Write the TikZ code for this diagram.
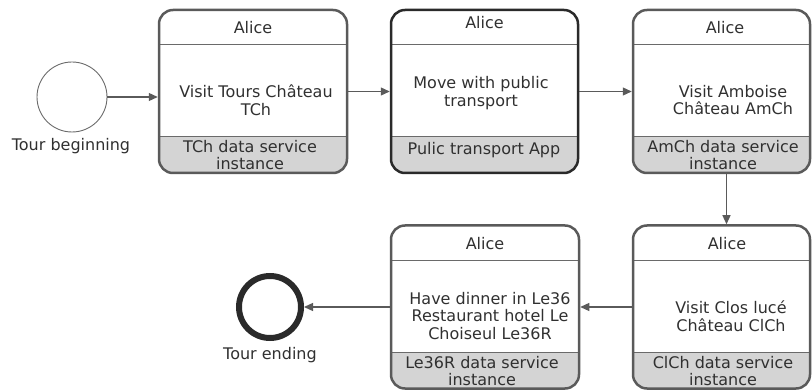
\documentclass[tikz,border=0pt]{standalone}
\usepackage{fontspec}
\setmainfont{DejaVu Sans}
\usetikzlibrary{arrows.meta}

\definecolor{boxline}{HTML}{5A5A5A}
\definecolor{darkline}{HTML}{2A2A2A}
\definecolor{bandgray}{HTML}{D4D4D4}
\definecolor{sepgray}{HTML}{6A6A6A}
\definecolor{txtgray}{HTML}{303030}

\tikzset{
	txt/.style={text=txtgray, align=center, inner sep=0pt, font=\fontsize{16}{17.5}\selectfont},
	flow/.style={draw=boxline, line width=1.2pt, -{Triangle[length=9pt,width=8pt]}},
	task/.style={draw=boxline, line width=2.5pt, rounded corners=14pt, inner sep=0pt,
		minimum width=188pt, minimum height=163pt,
		path picture={
			\fill[bandgray, sharp corners] ([yshift=36pt]path picture bounding box.south west)
				rectangle (path picture bounding box.south east);
			\draw[sepgray, line width=1pt, sharp corners] ([yshift=36pt]path picture bounding box.south west)
				-- ([yshift=36pt]path picture bounding box.south east);
			\draw[sepgray, line width=1pt, sharp corners] ([yshift=-35pt]path picture bounding box.north west)
				-- ([yshift=-35pt]path picture bounding box.north east);
		}},
}

\begin{document}
\begin{tikzpicture}[x=1pt, y=-1pt]
\useasboundingbox (0,0) rectangle (812,390);
% events
	\node[circle, draw=sepgray, line width=0.9pt, minimum size=70pt, inner sep=0pt] (start) at (72,97) {};
	\node[txt] (start-lbl) at (71,146) {Tour beginning};
	\node[circle, draw=darkline, line width=6pt, minimum size=62pt, inner sep=0pt] (end) at (270,307) {};
	\node[txt] (end-lbl) at (270,355) {Tour ending};

% tasks, top row
	\node[task] (tch) at (253,91.5) {};
	\node[txt] (tch-who) at (253,28) {Alice};
	\node[txt] (tch-act) at (256,100) {Visit Tours Château\\TCh};
	\node[txt] (tch-svc) at (250,155) {TCh data service\\instance};

	\node[task, draw=darkline, minimum width=187pt] (pt) at (484.5,91.5) {};
	\node[txt] (pt-who) at (484.5,23) {Alice};
	\node[txt] (pt-act) at (481,93) {Move with public\\transport};
	\node[txt] (pt-svc) at (484,150) {Pulic transport App};

	\node[task, minimum width=177pt] (amch) at (721.5,91.5) {};
	\node[txt] (amch-who) at (725,28) {Alice};
	\node[txt] (amch-act) at (733,100) {Visit Amboise\\Château AmCh};
	\node[txt] (amch-svc) at (723,155) {AmCh data service\\instance};

% tasks, bottom row
	\node[task, minimum width=177pt] (clch) at (721.5,307) {};
	\node[txt] (clch-who) at (727,244) {Alice};
	\node[txt] (clch-act) at (731,316) {Visit Clos lucé\\Château ClCh};
	\node[txt] (clch-svc) at (723,371) {ClCh data service\\instance};

	\node[task] (le) at (485,307) {};
	\node[txt] (le-who) at (485,244) {Alice};
	\node[txt] (le-act) at (490,316) {Have dinner in Le36\\Restaurant hotel Le\\Choiseul Le36R};
	\node[txt] (le-svc) at (482,371) {Le36R data service\\instance};

% sequence flows
	\draw[flow] (start.east) -- (tch.west |- start.east);
	\draw[flow] (tch.east) -- (pt.west);
	\draw[flow] (pt.east) -- (amch.west);
	\draw[flow] ([xshift=5pt]amch.south) -- ([xshift=5pt]clch.north);
	\draw[flow] (clch.west) -- (le.east);
	\draw[flow] (le.west) -- (end.east);
\end{tikzpicture}
\end{document}
